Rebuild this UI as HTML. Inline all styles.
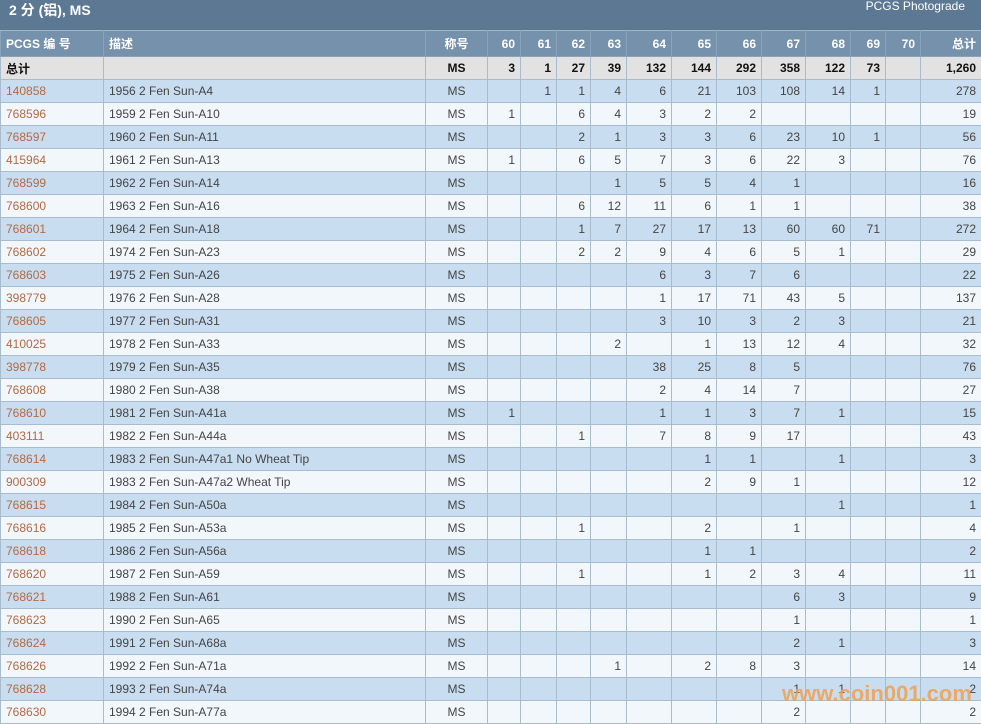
<!DOCTYPE html>
<html><head><meta charset="utf-8">
<style>
body{margin:0;width:981px;height:723px;overflow:hidden;background:#fff;font-family:"Liberation Sans","Noto Sans CJK SC",sans-serif;}
.top{position:absolute;left:0;top:0;width:981px;height:30px;background:#5c7893;}
.title{position:absolute;left:9px;top:0px;color:#fff;font-weight:bold;font-size:14px;}
.pg{position:absolute;right:16px;top:-1px;color:#fff;font-size:12px;}
table{position:absolute;left:0;top:30px;border-collapse:collapse;table-layout:fixed;width:981px;font-size:12px;}
td,th{border:1px solid #a9bccd;padding:0 5px;height:22px;overflow:hidden;white-space:nowrap;text-align:right;color:#444;}
th{background:#7591ab;color:#fff;height:25px;font-weight:bold;border-color:#8aa3ba;border-top:1px solid #a0b6ca}
tr.t td{background:#e2e2e2;font-weight:bold;color:#111;}
tr.b td{background:#c9ddf0;}
tr.w td{background:#f2f7fb;}
td.l,th.l{text-align:left;}
td.c,th.c{text-align:center;}
td.id{color:#b06a45;}
.wm{position:absolute;left:782px;top:681px;color:#f0a050;font-weight:bold;font-size:22px;opacity:.85;font-family:"Liberation Sans",sans-serif;}
</style></head><body>
<div class="top"><div class="title">2 分 (铝), MS</div><div class="pg">PCGS Photograde</div></div>
<table>
<colgroup><col style="width:103px"><col style="width:322px"><col style="width:62px"><col style="width:33px"><col style="width:36px"><col style="width:34px"><col style="width:36px"><col style="width:45px"><col style="width:45px"><col style="width:45px"><col style="width:44px"><col style="width:45px"><col style="width:35px"><col style="width:35px"><col style="width:61px"></colgroup>
<tr><th class="l">PCGS 编 号</th><th class="l">描述</th><th class="c">称号</th><th>60</th><th>61</th><th>62</th><th>63</th><th>64</th><th>65</th><th>66</th><th>67</th><th>68</th><th>69</th><th>70</th><th>总计</th></tr>
<tr class="t"><td class="l">总计</td><td></td><td class="c">MS</td><td>3</td><td>1</td><td>27</td><td>39</td><td>132</td><td>144</td><td>292</td><td>358</td><td>122</td><td>73</td><td></td><td>1,260</td></tr>
<tr class="b"><td class="l id">140858</td><td class="l">1956 2 Fen Sun-A4</td><td class="c">MS</td><td></td><td>1</td><td>1</td><td>4</td><td>6</td><td>21</td><td>103</td><td>108</td><td>14</td><td>1</td><td></td><td>278</td></tr>
<tr class="w"><td class="l id">768596</td><td class="l">1959 2 Fen Sun-A10</td><td class="c">MS</td><td>1</td><td></td><td>6</td><td>4</td><td>3</td><td>2</td><td>2</td><td></td><td></td><td></td><td></td><td>19</td></tr>
<tr class="b"><td class="l id">768597</td><td class="l">1960 2 Fen Sun-A11</td><td class="c">MS</td><td></td><td></td><td>2</td><td>1</td><td>3</td><td>3</td><td>6</td><td>23</td><td>10</td><td>1</td><td></td><td>56</td></tr>
<tr class="w"><td class="l id">415964</td><td class="l">1961 2 Fen Sun-A13</td><td class="c">MS</td><td>1</td><td></td><td>6</td><td>5</td><td>7</td><td>3</td><td>6</td><td>22</td><td>3</td><td></td><td></td><td>76</td></tr>
<tr class="b"><td class="l id">768599</td><td class="l">1962 2 Fen Sun-A14</td><td class="c">MS</td><td></td><td></td><td></td><td>1</td><td>5</td><td>5</td><td>4</td><td>1</td><td></td><td></td><td></td><td>16</td></tr>
<tr class="w"><td class="l id">768600</td><td class="l">1963 2 Fen Sun-A16</td><td class="c">MS</td><td></td><td></td><td>6</td><td>12</td><td>11</td><td>6</td><td>1</td><td>1</td><td></td><td></td><td></td><td>38</td></tr>
<tr class="b"><td class="l id">768601</td><td class="l">1964 2 Fen Sun-A18</td><td class="c">MS</td><td></td><td></td><td>1</td><td>7</td><td>27</td><td>17</td><td>13</td><td>60</td><td>60</td><td>71</td><td></td><td>272</td></tr>
<tr class="w"><td class="l id">768602</td><td class="l">1974 2 Fen Sun-A23</td><td class="c">MS</td><td></td><td></td><td>2</td><td>2</td><td>9</td><td>4</td><td>6</td><td>5</td><td>1</td><td></td><td></td><td>29</td></tr>
<tr class="b"><td class="l id">768603</td><td class="l">1975 2 Fen Sun-A26</td><td class="c">MS</td><td></td><td></td><td></td><td></td><td>6</td><td>3</td><td>7</td><td>6</td><td></td><td></td><td></td><td>22</td></tr>
<tr class="w"><td class="l id">398779</td><td class="l">1976 2 Fen Sun-A28</td><td class="c">MS</td><td></td><td></td><td></td><td></td><td>1</td><td>17</td><td>71</td><td>43</td><td>5</td><td></td><td></td><td>137</td></tr>
<tr class="b"><td class="l id">768605</td><td class="l">1977 2 Fen Sun-A31</td><td class="c">MS</td><td></td><td></td><td></td><td></td><td>3</td><td>10</td><td>3</td><td>2</td><td>3</td><td></td><td></td><td>21</td></tr>
<tr class="w"><td class="l id">410025</td><td class="l">1978 2 Fen Sun-A33</td><td class="c">MS</td><td></td><td></td><td></td><td>2</td><td></td><td>1</td><td>13</td><td>12</td><td>4</td><td></td><td></td><td>32</td></tr>
<tr class="b"><td class="l id">398778</td><td class="l">1979 2 Fen Sun-A35</td><td class="c">MS</td><td></td><td></td><td></td><td></td><td>38</td><td>25</td><td>8</td><td>5</td><td></td><td></td><td></td><td>76</td></tr>
<tr class="w"><td class="l id">768608</td><td class="l">1980 2 Fen Sun-A38</td><td class="c">MS</td><td></td><td></td><td></td><td></td><td>2</td><td>4</td><td>14</td><td>7</td><td></td><td></td><td></td><td>27</td></tr>
<tr class="b"><td class="l id">768610</td><td class="l">1981 2 Fen Sun-A41a</td><td class="c">MS</td><td>1</td><td></td><td></td><td></td><td>1</td><td>1</td><td>3</td><td>7</td><td>1</td><td></td><td></td><td>15</td></tr>
<tr class="w"><td class="l id">403111</td><td class="l">1982 2 Fen Sun-A44a</td><td class="c">MS</td><td></td><td></td><td>1</td><td></td><td>7</td><td>8</td><td>9</td><td>17</td><td></td><td></td><td></td><td>43</td></tr>
<tr class="b"><td class="l id">768614</td><td class="l">1983 2 Fen Sun-A47a1 No Wheat Tip</td><td class="c">MS</td><td></td><td></td><td></td><td></td><td></td><td>1</td><td>1</td><td></td><td>1</td><td></td><td></td><td>3</td></tr>
<tr class="w"><td class="l id">900309</td><td class="l">1983 2 Fen Sun-A47a2 Wheat Tip</td><td class="c">MS</td><td></td><td></td><td></td><td></td><td></td><td>2</td><td>9</td><td>1</td><td></td><td></td><td></td><td>12</td></tr>
<tr class="b"><td class="l id">768615</td><td class="l">1984 2 Fen Sun-A50a</td><td class="c">MS</td><td></td><td></td><td></td><td></td><td></td><td></td><td></td><td></td><td>1</td><td></td><td></td><td>1</td></tr>
<tr class="w"><td class="l id">768616</td><td class="l">1985 2 Fen Sun-A53a</td><td class="c">MS</td><td></td><td></td><td>1</td><td></td><td></td><td>2</td><td></td><td>1</td><td></td><td></td><td></td><td>4</td></tr>
<tr class="b"><td class="l id">768618</td><td class="l">1986 2 Fen Sun-A56a</td><td class="c">MS</td><td></td><td></td><td></td><td></td><td></td><td>1</td><td>1</td><td></td><td></td><td></td><td></td><td>2</td></tr>
<tr class="w"><td class="l id">768620</td><td class="l">1987 2 Fen Sun-A59</td><td class="c">MS</td><td></td><td></td><td>1</td><td></td><td></td><td>1</td><td>2</td><td>3</td><td>4</td><td></td><td></td><td>11</td></tr>
<tr class="b"><td class="l id">768621</td><td class="l">1988 2 Fen Sun-A61</td><td class="c">MS</td><td></td><td></td><td></td><td></td><td></td><td></td><td></td><td>6</td><td>3</td><td></td><td></td><td>9</td></tr>
<tr class="w"><td class="l id">768623</td><td class="l">1990 2 Fen Sun-A65</td><td class="c">MS</td><td></td><td></td><td></td><td></td><td></td><td></td><td></td><td>1</td><td></td><td></td><td></td><td>1</td></tr>
<tr class="b"><td class="l id">768624</td><td class="l">1991 2 Fen Sun-A68a</td><td class="c">MS</td><td></td><td></td><td></td><td></td><td></td><td></td><td></td><td>2</td><td>1</td><td></td><td></td><td>3</td></tr>
<tr class="w"><td class="l id">768626</td><td class="l">1992 2 Fen Sun-A71a</td><td class="c">MS</td><td></td><td></td><td></td><td>1</td><td></td><td>2</td><td>8</td><td>3</td><td></td><td></td><td></td><td>14</td></tr>
<tr class="b"><td class="l id">768628</td><td class="l">1993 2 Fen Sun-A74a</td><td class="c">MS</td><td></td><td></td><td></td><td></td><td></td><td></td><td></td><td>1</td><td>1</td><td></td><td></td><td>2</td></tr>
<tr class="w"><td class="l id">768630</td><td class="l">1994 2 Fen Sun-A77a</td><td class="c">MS</td><td></td><td></td><td></td><td></td><td></td><td></td><td></td><td>2</td><td></td><td></td><td></td><td>2</td></tr>
</table>
<div class="wm">www.coin001.com</div>
</body></html>
